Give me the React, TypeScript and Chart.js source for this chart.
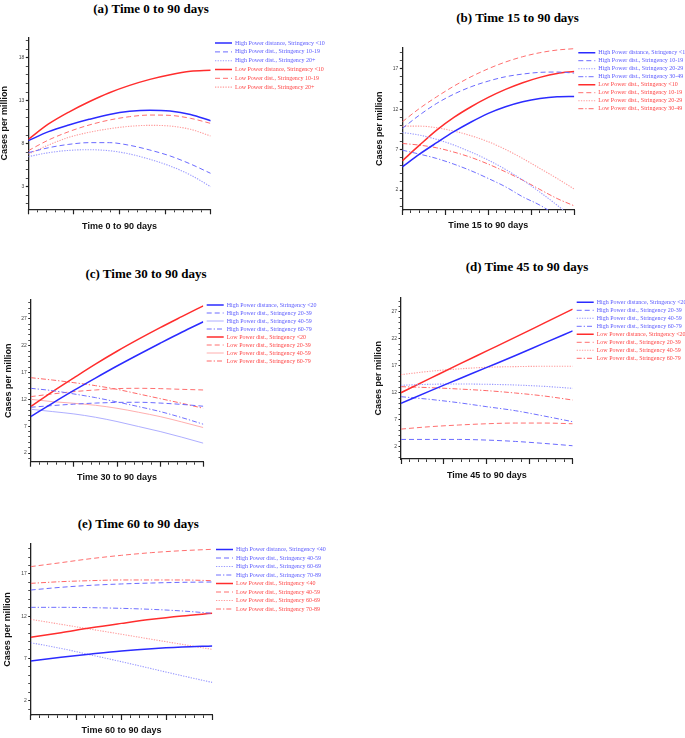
import React, { useEffect, useRef } from 'react';
import { Chart, registerables } from 'chart.js';
Chart.register(...registerables);

// ---------- DATA ----------
// Panel (a) Time 0 to 90 days
const aDays = [0, 10, 20, 30, 40, 50, 60, 70, 80, 90];
const aHighLt10 = [8.35, 9.4, 10.17, 10.83, 11.4, 11.76, 11.9, 11.8, 11.4, 10.67];
const aHigh1019 = [6.95, 7.53, 7.92, 8.12, 8.12, 7.81, 7.26, 6.57, 5.64, 4.55];
const aHigh20p = [6.49, 6.95, 7.22, 7.3, 7.18, 6.8, 6.18, 5.4, 4.36, 3.0];
const aLowLt10 = [8.5, 10.29, 11.68, 12.88, 13.93, 14.78, 15.48, 16.02, 16.41, 16.53];
const aLow1019 = [7.19, 8.43, 9.4, 10.17, 10.75, 11.14, 11.33, 11.29, 10.95, 10.36];
const aLow20p = [6.8, 7.84, 8.74, 9.32, 9.74, 10.02, 10.13, 10.05, 9.67, 8.89];
const aYTicks = [3, 8, 13, 18];

// Panel (b) Time 15 to 90 days
const bDays = [15, 22.5, 30, 37.5, 45, 52.5, 60, 67.5, 75, 82.5, 90];
const bHighLt10 = [4.87, 6.44, 7.85, 9.21, 10.41, 11.48, 12.3, 12.92, 13.33, 13.54, 13.58];
const bHigh1019 = [9.62, 11.27, 12.71, 13.86, 14.77, 15.47, 16.01, 16.34, 16.55, 16.59, 16.46];
const bHigh2029 = [9.12, 8.79, 8.26, 7.56, 6.69, 5.7, 4.55, 3.23, 1.74, 0.13, -1.6];
const bHigh3049 = [6.93, 6.44, 5.9, 5.2, 4.38, 3.43, 2.4, 1.16, 0.13, -1.2, -2.6];
const bLowLt10 = [5.61, 7.55, 9.41, 10.98, 12.3, 13.45, 14.44, 15.27, 15.93, 16.42, 16.67];
const bLow1019 = [10.44, 12.09, 13.53, 14.85, 16.01, 17.0, 17.83, 18.49, 18.98, 19.31, 19.48];
const bLow2029 = [9.9, 9.9, 9.7, 9.29, 8.71, 7.97, 7.02, 5.9, 4.67, 3.43, 2.11];
const bLow3049 = [7.76, 7.55, 7.22, 6.69, 6.03, 5.2, 4.25, 3.22, 2.07, 0.95, 0.04];
const bYTicks = [2, 7, 12, 17];

// Panel (c) Time 30 to 90 days
const cDays = [30, 37.5, 45, 52.5, 60, 67.5, 75, 82.5, 90];
const cHighLt20 = [8.78, 11.25, 13.65, 15.95, 18.2, 20.35, 22.45, 24.5, 26.44];
const cHigh2039 = [10.52, 10.83, 11.1, 11.3, 11.42, 11.45, 11.3, 11.05, 10.71];
const cHigh4059 = [10.15, 9.72, 9.28, 8.66, 7.86, 6.93, 6.0, 4.95, 3.83];
const cHigh6079 = [14.05, 13.62, 13.0, 12.32, 11.51, 10.64, 9.72, 8.6, 7.36];
const cLowLt20 = [10.64, 13.4, 16.0, 18.55, 20.95, 23.2, 25.35, 27.4, 29.42];
const cLow2039 = [12.5, 13.0, 13.43, 13.74, 13.99, 14.05, 13.99, 13.86, 13.74];
const cLow4059 = [12.0, 11.57, 11.26, 10.89, 10.33, 9.59, 8.78, 7.79, 6.74];
const cLow6079 = [16.03, 15.6, 15.1, 14.55, 13.86, 13.0, 12.13, 11.26, 10.33];
const cYTicks = [2, 7, 12, 17, 22, 27];

// Panel (d) Time 45 to 90 days
const dDays = [45, 52.5, 60, 67.5, 75, 82.5, 90];
const dHighLt20 = [10.02, 12.3, 14.5, 16.7, 18.9, 21.2, 23.47];
const dHigh2039 = [3.33, 3.33, 3.33, 3.21, 2.96, 2.59, 2.16];
const dHigh4059 = [13.37, 13.56, 13.62, 13.56, 13.43, 13.18, 12.81];
const dHigh6079 = [11.26, 10.77, 10.15, 9.4, 8.66, 7.67, 6.62];
const dLowLt20 = [12.0, 14.6, 17.2, 19.75, 22.3, 24.9, 27.5];
const dLow2039 = [5.25, 5.69, 6.0, 6.24, 6.37, 6.37, 6.24];
const dLow4059 = [15.35, 15.97, 16.41, 16.72, 16.84, 16.9, 16.9];
const dLow6079 = [13.12, 12.94, 12.69, 12.38, 11.94, 11.39, 10.64];
const dYTicks = [2, 7, 12, 17, 22, 27];

// Panel (e) Time 60 to 90 days
const eDays = [60, 65, 70, 75, 80, 85, 90];
const eHighLt40 = [6.69, 7.13, 7.52, 7.88, 8.16, 8.35, 8.47];
const eHigh4059 = [15.1, 15.42, 15.66, 15.82, 15.93, 16.01, 16.05];
const eHigh6069 = [8.86, 8.19, 7.4, 6.61, 5.78, 4.95, 4.16];
const eHigh7089 = [13.05, 13.05, 13.01, 12.93, 12.81, 12.62, 12.34];
const eLowLt40 = [9.5, 10.05, 10.64, 11.15, 11.63, 12.02, 12.34];
const eLow4059 = [17.87, 18.34, 18.82, 19.21, 19.53, 19.76, 19.92];
const eLow6069 = [11.63, 11.04, 10.45, 9.86, 9.26, 8.67, 8.07];
const eLow7089 = [15.89, 16.09, 16.21, 16.29, 16.29, 16.29, 16.21];
const eYTicks = [2, 7, 12, 17];

// ---------- STYLES ----------
type Kind = 'solid' | 'dash' | 'dot' | 'dashdot' | 'light';
const STYLE: Record<string, Record<Kind, [string, number, number[]]>> = {
  high: {
    solid: ['#2b2bff', 1.5, []],
    dash: ['#6b6bff', 1, [5, 3]],
    dot: ['#9a9aff', 1.1, [1.3, 1.3]],
    dashdot: ['#7070ff', 1, [5, 2, 1.3, 2]],
    light: ['#a5a5ff', 0.9, []],
  },
  low: {
    solid: ['#ff2d2d', 1.5, []],
    dash: ['#ff6f6f', 1, [5, 3]],
    dot: ['#ff9c9c', 1.1, [1.3, 1.3]],
    dashdot: ['#ff6868', 1, [5, 2, 1.3, 2]],
    light: ['#ffa5a5', 0.9, []],
  },
};
const TEXT_COLOR: Record<string, string> = { high: '#5a5aff', low: '#ff4545' };
const LEGEND_FONT_FAMILY = '"Liberation Serif", "Times New Roman", serif';
const LEGEND_FONT_SIZE = 6;
const LEGEND_LINE = 17;

type Series = { label: string; values: number[]; side: 'high' | 'low'; kind: Kind };
type PanelDef = {
  title: string; titleX: number; titleY: number; xTitle: string;
  left: number; top: number; width: number; height: number;
  padTop: number; plotRight: number; yW: number; xH: number;
  yTitlePad: number; xTitlePad: number; gap: number; legendPad: number;
  xMin: number; xMax: number; yMin: number; yMax: number; yMajors: number[];
  days: number[]; series: Series[];
};

const PANELS: PanelDef[] = [
  {
    title: '(a) Time 0 to 90 days', titleX: 151, titleY: 8, xTitle: 'Time 0 to 90 days',
    left: 0, top: 29, width: 345, height: 207, padTop: 8.3, plotRight: 210.7, yW: 28.3, xH: 26.7,
    yTitlePad: 0.5, xTitlePad: 5, gap: 1.5, legendPad: 2.8,
    xMin: 0, xMax: 90, yMin: 0.37, yMax: 20.37, yMajors: aYTicks, days: aDays,
    series: [
      { label: 'High Power distance, Stringency <10', values: aHighLt10, side: 'high', kind: 'solid' },
      { label: 'High Power dist., Stringency 10-19', values: aHigh1019, side: 'high', kind: 'dash' },
      { label: 'High Power dist., Stringency 20+', values: aHigh20p, side: 'high', kind: 'dot' },
      { label: 'Low Power distance, Stringency <10', values: aLowLt10, side: 'low', kind: 'solid' },
      { label: 'Low Power dist., Stringency 10-19', values: aLow1019, side: 'low', kind: 'dash' },
      { label: 'Low Power dist., Stringency 20+', values: aLow20p, side: 'low', kind: 'dot' },
    ],
  },
  {
    title: '(b) Time 15 to 90 days', titleX: 517.6, titleY: 17, xTitle: 'Time 15 to 90 days',
    left: 345, top: 40, width: 380, height: 196, padTop: 7.7, plotRight: 229.3, yW: 57.3, xH: 26,
    yTitlePad: 30.5, xTitlePad: 6, gap: 2, legendPad: 2,
    xMin: 15, xMax: 90, yMin: -0.47, yMax: 19.6, yMajors: bYTicks, days: bDays,
    series: [
      { label: 'High Power distance, Stringency <10', values: bHighLt10, side: 'high', kind: 'solid' },
      { label: 'High Power dist., Stringency 10-19', values: bHigh1019, side: 'high', kind: 'dash' },
      { label: 'High Power dist., Stringency 20-29', values: bHigh2029, side: 'high', kind: 'dot' },
      { label: 'High Power dist., Stringency 30-49', values: bHigh3049, side: 'high', kind: 'dashdot' },
      { label: 'Low Power dist., Stringency <10', values: bLowLt10, side: 'low', kind: 'solid' },
      { label: 'Low Power dist., Stringency 10-19', values: bLow1019, side: 'low', kind: 'dash' },
      { label: 'Low Power dist., Stringency 20-29', values: bLow2029, side: 'low', kind: 'dot' },
      { label: 'Low Power dist., Stringency 30-49', values: bLow3049, side: 'low', kind: 'dashdot' },
    ],
  },
  {
    title: '(c) Time 30 to 90 days', titleX: 146, titleY: 272.5, xTitle: 'Time 30 to 90 days',
    left: 0, top: 292, width: 345, height: 196, padTop: 8, plotRight: 203.3, yW: 30.7, xH: 26.3,
    yTitlePad: 3.8, xTitlePad: 5.5, gap: 1.4, legendPad: 2,
    xMin: 30, xMax: 90, yMin: 0.38, yMax: 30.5, yMajors: cYTicks, days: cDays,
    series: [
      { label: 'High Power distance, Stringency <20', values: cHighLt20, side: 'high', kind: 'solid' },
      { label: 'High Power dist., Stringency 20-39', values: cHigh2039, side: 'high', kind: 'dash' },
      { label: 'High Power dist., Stringency 40-59', values: cHigh4059, side: 'high', kind: 'light' },
      { label: 'High Power dist., Stringency 60-79', values: cHigh6079, side: 'high', kind: 'dashdot' },
      { label: 'Low Power dist., Stringency <20', values: cLowLt20, side: 'low', kind: 'solid' },
      { label: 'Low Power dist., Stringency 20-39', values: cLow2039, side: 'low', kind: 'dash' },
      { label: 'Low Power dist., Stringency 40-59', values: cLow4059, side: 'low', kind: 'light' },
      { label: 'Low Power dist., Stringency 60-79', values: cLow6079, side: 'low', kind: 'dashdot' },
    ],
  },
  {
    title: '(d) Time 45 to 90 days', titleX: 527, titleY: 266, xTitle: 'Time 45 to 90 days',
    left: 345, top: 289, width: 380, height: 197, padTop: 8.3, plotRight: 227.7, yW: 56, xH: 27,
    yTitlePad: 28.8, xTitlePad: 6, gap: 2, legendPad: 2,
    xMin: 45, xMax: 90, yMin: -0.3, yMax: 29.7, yMajors: dYTicks, days: dDays,
    series: [
      { label: 'High Power distance, Stringency <20', values: dHighLt20, side: 'high', kind: 'solid' },
      { label: 'High Power dist., Stringency 20-39', values: dHigh2039, side: 'high', kind: 'dash' },
      { label: 'High Power dist., Stringency 40-59', values: dHigh4059, side: 'high', kind: 'dot' },
      { label: 'High Power dist., Stringency 60-79', values: dHigh6079, side: 'high', kind: 'dashdot' },
      { label: 'Low Power distance, Stringency <20', values: dLowLt20, side: 'low', kind: 'solid' },
      { label: 'Low Power dist., Stringency 20-39', values: dLow2039, side: 'low', kind: 'dash' },
      { label: 'Low Power dist., Stringency 40-59', values: dLow4059, side: 'low', kind: 'dot' },
      { label: 'Low Power dist., Stringency 60-79', values: dLow6079, side: 'low', kind: 'dashdot' },
    ],
  },
  {
    title: '(e) Time 60 to 90 days', titleX: 138.3, titleY: 523, xTitle: 'Time 60 to 90 days',
    left: 0, top: 536, width: 345, height: 202, padTop: 8, plotRight: 212.3, yW: 30.7, xH: 23,
    yTitlePad: 2.8, xTitlePad: 2.5, gap: 1.2, legendPad: 2.5,
    xMin: 60, xMax: 90, yMin: 0.3, yMax: 20.55, yMajors: eYTicks, days: eDays,
    series: [
      { label: 'High Power distance, Stringency <40', values: eHighLt40, side: 'high', kind: 'solid' },
      { label: 'High Power dist., Stringency 40-59', values: eHigh4059, side: 'high', kind: 'dash' },
      { label: 'High Power dist., Stringency 60-69', values: eHigh6069, side: 'high', kind: 'dot' },
      { label: 'High Power dist., Stringency 70-89', values: eHigh7089, side: 'high', kind: 'dashdot' },
      { label: 'Low Power dist., Stringency <40', values: eLowLt40, side: 'low', kind: 'solid' },
      { label: 'Low Power dist., Stringency 40-59', values: eLow4059, side: 'low', kind: 'dash' },
      { label: 'Low Power dist., Stringency 60-69', values: eLow6069, side: 'low', kind: 'dot' },
      { label: 'Low Power dist., Stringency 70-89', values: eLow7089, side: 'low', kind: 'dashdot' },
    ],
  },
];

const AXIS_COLOR = '#222';

function legendWidth(p: PanelDef): number {
  const c = document.createElement('canvas');
  const ctx = c.getContext('2d')!;
  ctx.font = `normal ${LEGEND_FONT_SIZE}px ${LEGEND_FONT_FAMILY}`;
  let maxW = 0;
  p.series.forEach((s) => { maxW = Math.max(maxW, ctx.measureText(s.label).width); });
  // Chart.js vertical legend width: padding + (box + fontSize/2 + text) + 10
  return p.legendPad + LEGEND_LINE + LEGEND_FONT_SIZE / 2 + maxW + 10;
}

function makeConfig(p: PanelDef): any {
  const xStep = (p.xMax - p.xMin) / 20;
  const xTicks: number[] = [];
  for (let i = 0; i <= 20; i++) xTicks.push(p.xMin + i * xStep);
  const xMajorTicks = xTicks.filter((_, i) => i % 5 === 0);
  const yTicks: number[] = [];
  for (let v = Math.ceil(p.yMin); v <= Math.floor(p.yMax); v++) yTicks.push(v);

  const lw = legendWidth(p);
  const padRight = Math.max(0, p.width - p.plotRight - p.gap - lw);

  const datasets = p.series.map((s) => {
    const [color, width, dash] = STYLE[s.side][s.kind];
    return {
      label: s.label,
      data: p.days.map((d, i) => ({ x: d, y: s.values[i] })),
      borderColor: color,
      backgroundColor: color,
      borderWidth: width,
      borderDash: dash,
      pointRadius: 0,
      pointHoverRadius: 0,
      fill: false,
      cubicInterpolationMode: 'monotone',
      xAxisID: 'x',
      yAxisID: 'y',
      legendColor: TEXT_COLOR[s.side],
    };
  });

  return {
    type: 'line',
    data: { datasets },
    options: {
      responsive: false,
      animation: false,
      events: [],
      layout: { padding: { left: 0, top: p.padTop, right: padRight, bottom: 0 } },
      plugins: {
        title: { display: false },
        tooltip: { enabled: false },
        legend: {
          display: true,
          position: 'right',
          align: 'start',
          fullSize: false,
          maxWidth: 1000,
          labels: {
            usePointStyle: true,
            pointStyle: 'line',
            pointStyleWidth: LEGEND_LINE,
            boxHeight: LEGEND_FONT_SIZE,
            padding: p.legendPad,
            font: { family: LEGEND_FONT_FAMILY, size: LEGEND_FONT_SIZE },
            generateLabels: (chart: any) =>
              chart.data.datasets.map((ds: any, i: number) => ({
                text: ds.label,
                fontColor: ds.legendColor,
                strokeStyle: ds.borderColor,
                fillStyle: ds.borderColor,
                lineDash: ds.borderDash,
                lineDashOffset: 0,
                lineCap: 'butt',
                lineWidth: ds.borderWidth,
                pointStyle: 'line',
                rotation: 0,
                textAlign: 'left',
                hidden: false,
                datasetIndex: i,
              })),
          },
        },
      },
      scales: {
        xMajor: {
          type: 'linear',
          position: 'bottom',
          weight: -1,
          min: p.xMin,
          max: p.xMax,
          afterBuildTicks: (s: any) => { s.ticks = xMajorTicks.map((v) => ({ value: v })); },
          afterFit: (s: any) => { s.height = 0; },
          ticks: { callback: () => '', autoSkip: false, maxRotation: 0, font: { size: 5 } },
          grid: {
            display: true, drawOnChartArea: false, drawTicks: true, tickLength: 5,
            tickColor: AXIS_COLOR, tickWidth: 1.2,
          },
          border: { display: false },
        },
        x: {
          type: 'linear',
          min: p.xMin,
          max: p.xMax,
          afterBuildTicks: (s: any) => { s.ticks = xTicks.map((v) => ({ value: v })); },
          afterFit: (s: any) => { s.height = p.xH; },
          ticks: { callback: () => '', autoSkip: false, maxRotation: 0, font: { size: 5 } },
          grid: {
            display: true, drawOnChartArea: false, drawTicks: true, tickLength: 3,
            tickColor: AXIS_COLOR, tickWidth: 0.9,
          },
          border: { display: true, color: AXIS_COLOR, width: 1.3 },
          title: {
            display: true, text: p.xTitle, color: '#111',
            font: { family: '"Liberation Sans", Arial, sans-serif', size: 9, weight: 'bold', lineHeight: 1 },
            padding: { top: 0, bottom: p.xTitlePad },
          },
        },
        y: {
          type: 'linear',
          position: 'left',
          min: p.yMin,
          max: p.yMax,
          afterBuildTicks: (s: any) => { s.ticks = yTicks.map((v) => ({ value: v })); },
          afterFit: (s: any) => { s.width = p.yW; },
          ticks: {
            autoSkip: false,
            padding: 1.5,
            color: '#444',
            font: { family: '"Liberation Sans", Arial, sans-serif', size: 5 },
            callback: (v: number) => (p.yMajors.includes(v) ? String(v) : ''),
          },
          grid: {
            display: true, drawOnChartArea: false, drawTicks: true, tickLength: 2.5,
            tickColor: AXIS_COLOR,
            tickWidth: (ctx: any) => (ctx.tick && p.yMajors.includes(ctx.tick.value) ? 1.2 : 0.8),
          },
          border: { display: true, color: AXIS_COLOR, width: 1.3 },
          title: {
            display: true, text: 'Cases per million', color: '#111',
            font: { family: '"Liberation Sans", Arial, sans-serif', size: 9, weight: 'bold', lineHeight: 1 },
            padding: { top: p.yTitlePad, bottom: 0 },
          },
        },
        gap: {
          type: 'linear',
          position: 'right',
          display: true,
          afterFit: (s: any) => { s.width = p.gap; },
          ticks: { display: false },
          grid: { display: false, drawTicks: false },
          border: { display: false },
        },
      },
    },
  };
}

function Panel({ p }: { p: PanelDef }) {
  const ref = useRef<HTMLCanvasElement | null>(null);
  useEffect(() => {
    if (!ref.current) return;
    const chart = new Chart(ref.current, makeConfig(p));
    return () => chart.destroy();
  }, [p]);
  return (
    <>
      <div
        style={{
          position: 'absolute', left: p.titleX, top: p.titleY, transform: 'translate(-50%, -50%)',
          font: 'bold 13px "Liberation Serif", "Times New Roman", serif', whiteSpace: 'nowrap',
          lineHeight: 1, color: '#000',
        }}
      >
        {p.title}
      </div>
      <canvas
        ref={ref}
        width={p.width}
        height={p.height}
        style={{ position: 'absolute', left: p.left, top: p.top, width: p.width, height: p.height, display: 'block' }}
      />
    </>
  );
}

export default function App() {
  return (
    <div style={{ position: 'absolute', left: 0, top: 0, width: 685, height: 738, overflow: 'hidden', background: '#fff' }}>
      {PANELS.map((p, i) => (
        <Panel key={i} p={p} />
      ))}
    </div>
  );
}
